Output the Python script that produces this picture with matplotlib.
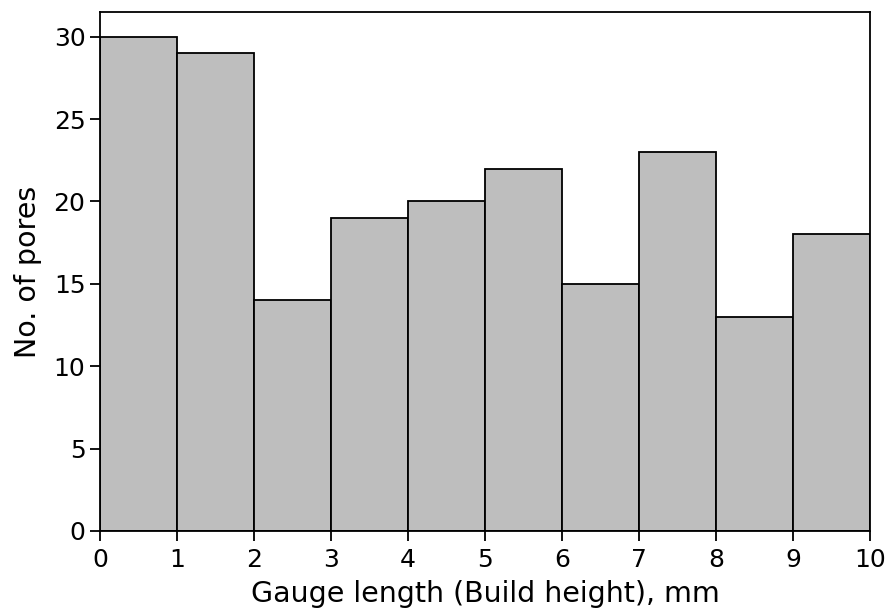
import matplotlib
matplotlib.use("Agg")
import matplotlib.pyplot as plt
import numpy as np

# Pore counts per 1 mm slice of the gauge length
bin_edges = [0, 1, 2, 3, 4, 5, 6, 7, 8, 9, 10]
pore_counts = [30, 29, 14, 19, 20, 22, 15, 23, 13, 18]
x_ticks = [0, 1, 2, 3, 4, 5, 6, 7, 8, 9, 10]
y_ticks = [0, 5, 10, 15, 20, 25, 30]

fig = plt.figure(figsize=(8.91, 6.11), dpi=100)
ax = fig.add_axes([100 / 891, 1 - 531 / 611, 770 / 891, 519 / 611])

lefts = np.array(bin_edges[:-1])
widths = np.diff(bin_edges)
ax.bar(lefts, pore_counts, width=widths, align="edge",
       color="#bebebe", edgecolor="black", linewidth=1.3)

ax.set_xlim(bin_edges[0], bin_edges[-1])
ax.set_ylim(0, max(pore_counts) * 1.05)
ax.set_xticks(x_ticks)
ax.set_yticks(y_ticks)
ax.tick_params(labelsize=18, length=7, width=1.3)
ax.tick_params(axis="x", pad=5)
for s in ax.spines.values():
    s.set_linewidth(1.3)

ax.set_xlabel("Gauge length (Build height), mm", fontsize=20.5, labelpad=6)
ax.set_ylabel("No. of pores", fontsize=20.5, labelpad=8)

fig.savefig("out.png", dpi=100)
